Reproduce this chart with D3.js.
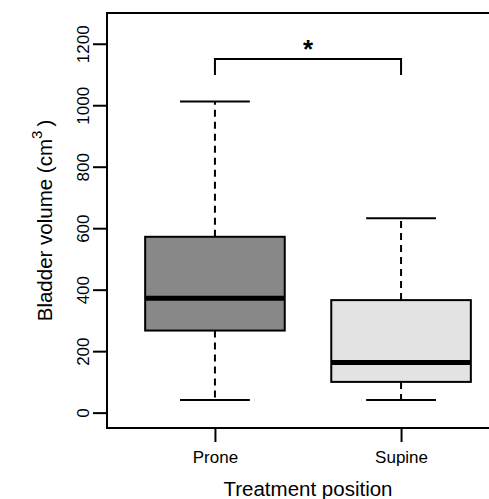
<!DOCTYPE html>
<html>
<head>
<meta charset="utf-8">
<script src="https://cdn.jsdelivr.net/npm/d3@7"></script>
<style>
  html, body { margin: 0; padding: 0; background: #fff; }
  svg { display: block; font-family: "Liberation Sans", Arial, sans-serif; }
</style>
</head>
<body>
<svg id="chart" width="489" height="499"></svg>
<script>
// Bladder volume by treatment position: five-number summaries per group
const categories   = ["Prone", "Supine"];
const whiskerLow   = [41, 41];
const lowerQuart   = [267, 100];
const medians      = [372, 163];
const upperQuart   = [572, 366];
const whiskerHigh  = [1012, 632];
const fills        = ["#888888", "#e3e3e3"];
const yTickValues  = [0, 200, 400, 600, 800, 1000, 1200];
// significance bracket between the two groups
const bracketTop   = 1150;
const bracketFoot  = 1098;
const bracketLabel = "*";

const svg = d3.select("#chart");

const plot = { left: 107, top: 13, right: 509, bottom: 428 };

const y = d3.scaleLinear().domain([-50, 1300]).range([plot.bottom, plot.top]);
const x = d3.scaleLinear().domain([0.42, 2.58]).range([plot.left, plot.right]);

const boxHalf = 0.375;   // box half-width in category units
const capHalf = 0.1875;  // whisker cap half-width

const groups = categories.map((c, i) => ({
  name: c, pos: i + 1,
  lo: whiskerLow[i], q1: lowerQuart[i], med: medians[i],
  q3: upperQuart[i], hi: whiskerHigh[i], fill: fills[i]
}));

const g = svg.append("g");

// whiskers (dashed)
g.selectAll("line.whisk-up").data(groups).join("line")
  .attr("x1", d => x(d.pos)).attr("x2", d => x(d.pos))
  .attr("y1", d => y(d.q3)).attr("y2", d => y(d.hi))
  .attr("stroke", "#000").attr("stroke-width", 2).attr("stroke-dasharray", "7,5");
g.selectAll("line.whisk-down").data(groups).join("line")
  .attr("x1", d => x(d.pos)).attr("x2", d => x(d.pos))
  .attr("y1", d => y(d.q1)).attr("y2", d => y(d.lo))
  .attr("stroke", "#000").attr("stroke-width", 2).attr("stroke-dasharray", "7,5");

// whisker caps
["lo", "hi"].forEach(k => {
  g.selectAll(null).data(groups).join("line")
    .attr("x1", d => x(d.pos - capHalf)).attr("x2", d => x(d.pos + capHalf))
    .attr("y1", d => y(d[k])).attr("y2", d => y(d[k]))
    .attr("stroke", "#000").attr("stroke-width", 2);
});

// boxes
g.selectAll("rect.box").data(groups).join("rect")
  .attr("x", d => x(d.pos - boxHalf))
  .attr("width", d => x(d.pos + boxHalf) - x(d.pos - boxHalf))
  .attr("y", d => y(d.q3))
  .attr("height", d => y(d.q1) - y(d.q3))
  .attr("fill", d => d.fill).attr("stroke", "#000").attr("stroke-width", 2);

// medians
g.selectAll("line.median").data(groups).join("line")
  .attr("x1", d => x(d.pos - boxHalf)).attr("x2", d => x(d.pos + boxHalf))
  .attr("y1", d => y(d.med)).attr("y2", d => y(d.med))
  .attr("stroke", "#000").attr("stroke-width", 5);

// frame
svg.append("rect")
  .attr("x", plot.left).attr("y", plot.top)
  .attr("width", plot.right - plot.left).attr("height", plot.bottom - plot.top)
  .attr("fill", "none").attr("stroke", "#000").attr("stroke-width", 2);

// y axis
const yAxis = svg.append("g")
  .attr("transform", `translate(${plot.left},0)`)
  .call(d3.axisLeft(y).tickValues(yTickValues).tickSize(14).tickFormat(d3.format("d")));
yAxis.select(".domain").remove();
yAxis.selectAll(".tick line").attr("stroke", "#000").attr("stroke-width", 2);
yAxis.selectAll(".tick text")
  .attr("x", null).attr("dy", null)
  .attr("transform", "translate(-18,0) rotate(-90)")
  .attr("text-anchor", "middle")
  .attr("fill", "#000")
  .style("font-size", "17px")
  .style("font-family", "'Liberation Sans', Arial, sans-serif");

// x axis
const xAxis = svg.append("g")
  .attr("transform", `translate(0,${plot.bottom})`)
  .call(d3.axisBottom(x).tickValues([1, 2]).tickSize(14).tickFormat(d => categories[d - 1]));
xAxis.select(".domain").remove();
xAxis.selectAll(".tick line").attr("stroke", "#000").attr("stroke-width", 2);
xAxis.selectAll(".tick text")
  .attr("y", 35).attr("dy", null)
  .attr("fill", "#000")
  .style("font-size", "17px")
  .style("font-family", "'Liberation Sans', Arial, sans-serif");

// axis titles
svg.append("text")
  .attr("x", (plot.left + plot.right) / 2).attr("y", 496)
  .attr("text-anchor", "middle")
  .style("font-size", "20.5px")
  .text("Treatment position");

const yTitle = svg.append("text")
  .attr("transform", `translate(52,${(plot.top + plot.bottom) / 2}) rotate(-90)`)
  .attr("text-anchor", "middle")
  .style("font-size", "20.5px");
yTitle.append("tspan").text("Bladder volume (cm");
yTitle.append("tspan").attr("dy", -10).style("font-size", "15px").text("3");
yTitle.append("tspan").attr("dy", 10).text("\u2009)");

// significance bracket
svg.append("path").attr("d", d3.line()([
  [x(1), y(bracketFoot)], [x(1), y(bracketTop)],
  [x(2), y(bracketTop)], [x(2), y(bracketFoot)]
]))
  .attr("fill", "none").attr("stroke", "#000").attr("stroke-width", 2);
svg.append("text")
  .attr("x", x(1.5)).attr("y", y(bracketTop) - 1)
  .attr("text-anchor", "middle")
  .style("font-size", "26px").style("font-weight", "bold")
  .text(bracketLabel);
</script>
</body>
</html>
